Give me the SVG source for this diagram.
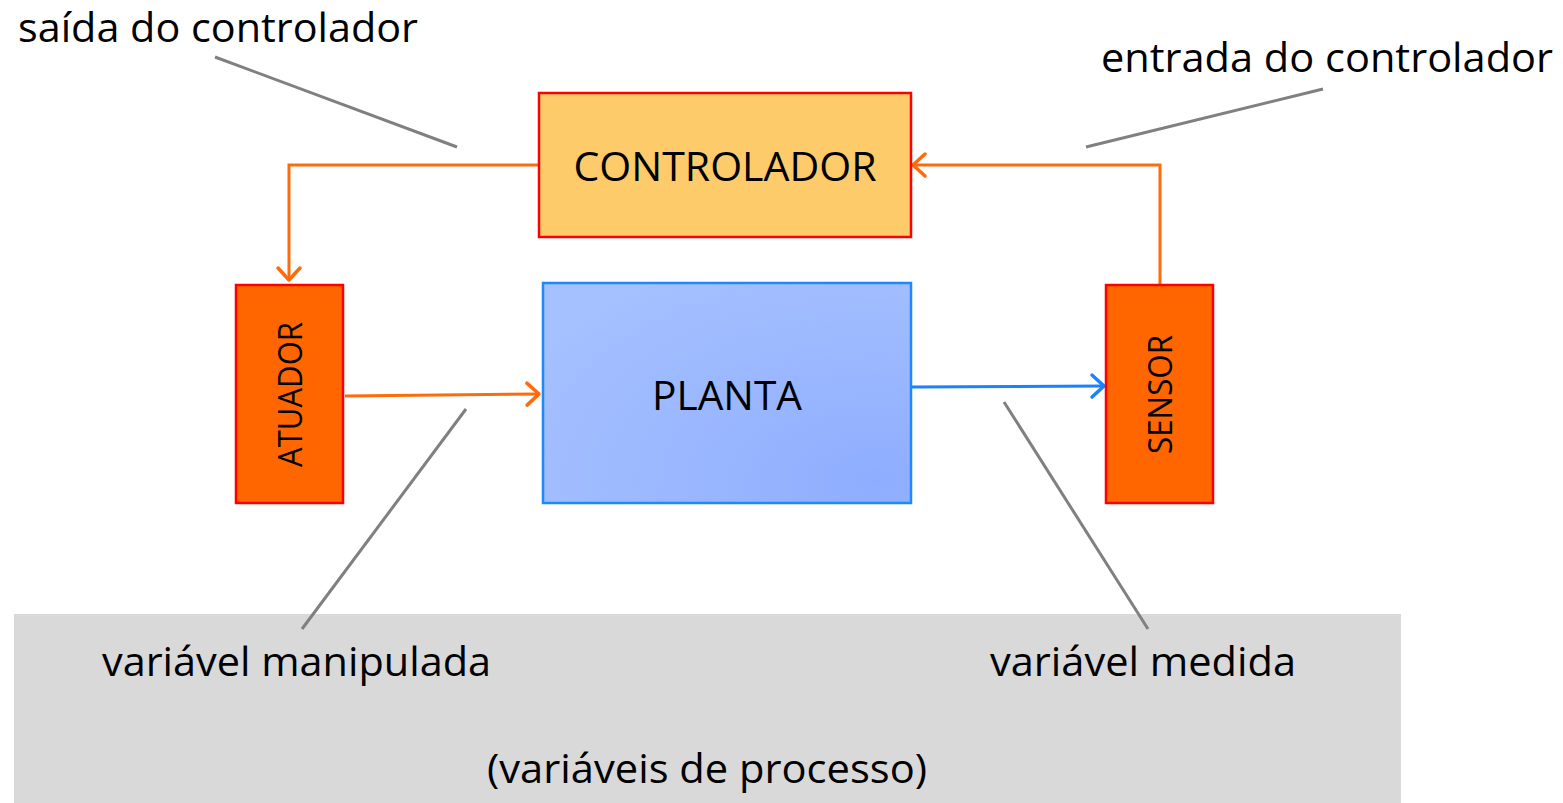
<svg xmlns="http://www.w3.org/2000/svg" width="1563" height="803" viewBox="0 0 1563 803">
<style>
text{font-family:"Open Sans","Noto Sans","Liberation Sans",sans-serif;fill:#000}
.lbl{font-size:40px}
.box{stroke:#FF0000;stroke-width:2.5}
.or{fill:#FF6600}
.conn{fill:none;stroke-width:3}
.o{stroke:#FF6A0A}
.b{stroke:#1A82FF}
.lead{stroke:#808080;stroke-width:3;fill:none}
</style>
<defs>
<marker id="ao" markerUnits="userSpaceOnUse" markerWidth="30" markerHeight="30" refX="15" refY="15" orient="auto" viewBox="0 0 30 30">
<path d="M3,4 L15,15 L3,26" fill="none" stroke="#FF6A0A" stroke-width="3.5" stroke-linecap="round" stroke-linejoin="round"/>
</marker>
<marker id="ab" markerUnits="userSpaceOnUse" markerWidth="30" markerHeight="30" refX="15" refY="15" orient="auto" viewBox="0 0 30 30">
<path d="M3,4 L15,15 L3,26" fill="none" stroke="#1A82FF" stroke-width="3.5" stroke-linecap="round" stroke-linejoin="round"/>
</marker>
<radialGradient id="gp" cx="0.9" cy="0.9" r="1.1">
<stop offset="0" stop-color="#8FADFF"/>
<stop offset="1" stop-color="#A6C1FF"/>
</radialGradient>
</defs>
<rect x="14" y="614" width="1387" height="189" fill="#D9D9D9"/>
<g id="connectors">
<polyline class="conn o" points="539,165 289,165 289,280" marker-end="url(#ao)"/>
<polyline class="conn o" points="1160,285 1160,165 913,165" marker-end="url(#ao)"/>
<line class="conn o" x1="345" y1="396" x2="539" y2="394" marker-end="url(#ao)"/>
<line class="conn b" x1="912" y1="387" x2="1104" y2="386" marker-end="url(#ab)"/>
</g>
<g id="leaders">
<line class="lead" x1="215" y1="57" x2="457" y2="147"/>
<line class="lead" x1="1323" y1="89" x2="1086" y2="147"/>
<line class="lead" x1="466" y1="409" x2="302" y2="629"/>
<line class="lead" x1="1004" y1="402" x2="1148" y2="629"/>
</g>
<g id="controlador">
<rect class="box" x="539" y="93" width="372" height="144" fill="#FECB6A"/>
<text class="lbl" x="725" y="181" text-anchor="middle" textLength="303" lengthAdjust="spacingAndGlyphs">CONTROLADOR</text>
</g>
<g id="planta">
<rect x="543" y="283" width="368" height="220" fill="url(#gp)" stroke="#1E88FF" stroke-width="2.5"/>
<text class="lbl" x="727" y="410" text-anchor="middle" textLength="150" lengthAdjust="spacingAndGlyphs">PLANTA</text>
</g>
<g id="atuador">
<rect class="box or" x="236" y="285" width="107" height="218"/>
<text x="302" y="394.5" font-size="33" text-anchor="middle" transform="rotate(-90 302 394.5)" textLength="145" lengthAdjust="spacingAndGlyphs">ATUADOR</text>
</g>
<g id="sensor">
<rect class="box or" x="1106" y="285" width="107" height="218"/>
<text x="1172" y="394.5" font-size="33" text-anchor="middle" transform="rotate(-90 1172 394.5)" textLength="119" lengthAdjust="spacingAndGlyphs">SENSOR</text>
</g>
<g id="labels">
<text class="lbl" x="18" y="42" textLength="400" lengthAdjust="spacingAndGlyphs">saída do controlador</text>
<text class="lbl" x="1101" y="72" textLength="452" lengthAdjust="spacingAndGlyphs">entrada do controlador</text>
<text class="lbl" x="102" y="676" textLength="389" lengthAdjust="spacingAndGlyphs">variável manipulada</text>
<text class="lbl" x="990" y="676" textLength="306" lengthAdjust="spacingAndGlyphs">variável medida</text>
<text class="lbl" x="487" y="783" textLength="440" lengthAdjust="spacingAndGlyphs">(variáveis de processo)</text>
</g>
</svg>
